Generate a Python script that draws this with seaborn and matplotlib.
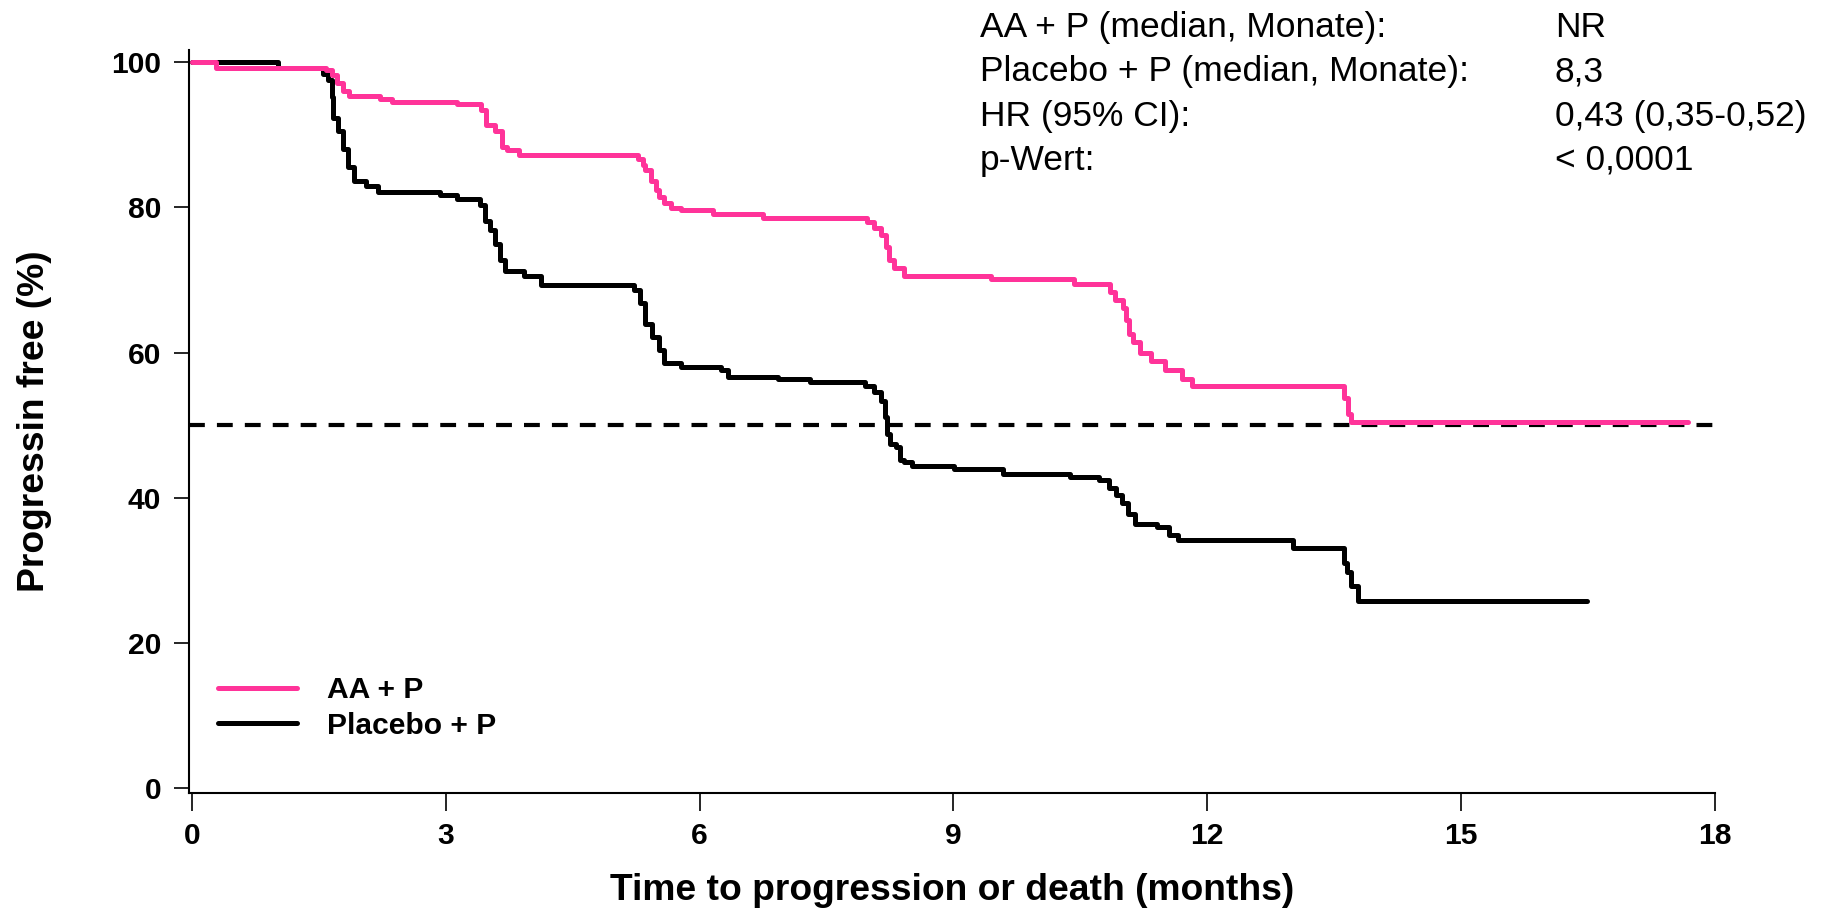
import seaborn as sns
import matplotlib.pyplot as plt
import pandas as pd

# Kaplan-Meier style progression-free curves (months, % progression free)
aa_times = [0, 0.29, 1.59, 1.66, 1.72, 1.78, 1.86, 2.22, 2.36, 3.13, 3.42, 3.48,
            3.58, 3.66, 3.72, 3.86, 5.27, 5.33, 5.36, 5.42, 5.48, 5.52, 5.58, 5.66,
            5.78, 6.16, 6.75, 7.98, 8.06, 8.14, 8.20, 8.24, 8.30, 8.42, 9.44, 10.42,
            10.85, 10.91, 11.00, 11.04, 11.08, 11.12, 11.21, 11.34, 11.50, 11.70,
            11.82, 13.62, 13.66, 13.70, 17.68]
aa_surv = [100, 99.2, 98.9, 98.2, 97.1, 96.0, 95.4, 95.0, 94.6, 94.2, 93.4, 91.3,
           90.6, 88.3, 87.9, 87.2, 86.7, 85.8, 85.1, 83.7, 82.4, 81.5, 80.6, 79.9,
           79.6, 79.1, 78.6, 78.0, 77.1, 76.2, 74.6, 72.7, 71.6, 70.5, 70.1, 69.4,
           68.4, 67.2, 66.1, 64.5, 62.6, 61.5, 60.0, 58.9, 57.6, 56.3,
           55.4, 53.7, 51.6, 50.4, 50.4]

pl_times = [0, 1.02, 1.55, 1.61, 1.65, 1.67, 1.73, 1.79, 1.85, 1.91, 2.06, 2.20,
            2.93, 3.13, 3.40, 3.46, 3.52, 3.58, 3.64, 3.70, 3.92, 4.13, 5.23, 5.30,
            5.36, 5.44, 5.52, 5.58, 5.78, 6.25, 6.34, 6.93, 7.30, 7.95, 8.06, 8.14,
            8.19, 8.22, 8.25, 8.32, 8.37, 8.42, 8.51, 9.01, 9.59, 10.38, 10.72,
            10.84, 10.92, 10.99, 11.06, 11.14, 11.40, 11.55, 11.65, 13.01, 13.61,
            13.65, 13.70, 13.78, 16.49]
pl_surv = [100, 99.2, 98.4, 97.5, 95.2, 92.3, 90.6, 88.1, 85.6, 83.7, 83.0, 82.1,
           81.7, 81.1, 80.3, 78.2, 76.9, 75.0, 72.7, 71.3, 70.5, 69.3, 68.6, 66.8,
           64.0, 62.2, 60.3, 58.5, 58.0, 57.6, 56.7, 56.4, 55.9, 55.4, 54.5, 53.3,
           51.1, 48.8, 47.4, 47.0, 45.2, 44.9, 44.4, 43.9, 43.3, 42.8, 42.4,
           41.4, 40.4, 39.2, 37.8, 36.4, 35.9, 34.9, 34.2, 33.0, 31.0,
           29.8, 27.8, 25.8, 25.8]

arm_names = ["AA + P", "Placebo + P"]
arm_colors = ["#ff3399", "black"]
median_level = 50
x_ticks = [0, 3, 6, 9, 12, 15, 18]
y_ticks = [0, 20, 40, 60, 80, 100]

stat_labels = ["AA + P (median, Monate):", "Placebo + P (median, Monate):",
               "HR (95% CI):", "p-Wert:"]
stat_values = ["NR", "8,3", "0,43 (0,35-0,52)", "< 0,0001"]

sns.set_style("ticks")
plt.rcParams["font.family"] = ["Liberation Sans", "DejaVu Sans"]
plt.rcParams["text.color"] = "black"
plt.rcParams["axes.labelcolor"] = "black"
plt.rcParams["xtick.color"] = "black"
plt.rcParams["ytick.color"] = "black"

W, H = 1837, 913
fig = plt.figure(figsize=(W / 100, H / 100), dpi=100)
ax = fig.add_axes([189 / W, (H - 793) / H, (1715 - 189) / W, (793 - 50) / H])

aa = pd.DataFrame({"t": aa_times, "s": aa_surv})
pl = pd.DataFrame({"t": pl_times, "s": pl_surv})

# placebo first so the pink curve sits on top where they overlap
sns.lineplot(data=pl, x="t", y="s", drawstyle="steps-post", estimator=None,
             sort=False, color=arm_colors[1], lw=3.6, label=arm_names[1], ax=ax)
sns.lineplot(data=aa, x="t", y="s", drawstyle="steps-post", estimator=None,
             sort=False, color=arm_colors[0], lw=3.6, label=arm_names[0], ax=ax)

ax.axhline(median_level, color="black", lw=3, dashes=(3.8, 2.9), zorder=1)

ax.set_xlim(-0.035, 18)
ax.set_ylim(-0.7, 101.7)
ax.set_xticks(x_ticks)
ax.set_yticks(y_ticks)
sns.despine(ax=ax)
for side in ["left", "bottom"]:
    ax.spines[side].set_linewidth(1.5)
    ax.spines[side].set_color("black")

ax.tick_params(axis="x", length=13, width=1.2, pad=8, labelsize=21.6, colors="black")
ax.tick_params(axis="y", length=11, width=1.2, pad=9, labelsize=21.6, colors="black")
for lab in ax.get_xticklabels() + ax.get_yticklabels():
    lab.set_fontweight("bold")

ax.set_xlabel("Time to progression or death (months)", fontsize=26.8,
              fontweight="bold")
ax.set_ylabel("Progressin free (%)", fontsize=26.8, fontweight="bold")
ax.xaxis.set_label_coords(0.5, -0.108)
ax.yaxis.set_label_coords(-0.090, 0.5)

handles, labels = ax.get_legend_handles_labels()
leg = ax.legend(handles[::-1], labels[::-1], loc="upper left",
                bbox_to_anchor=(0.019, 0.157), frameon=False, borderpad=0,
                borderaxespad=0, handlelength=2.64, handletextpad=1.0,
                labelspacing=0.25, prop={"size": 21.6, "weight": "bold"})

baselines = [37.3, 81.5, 125.7, 170]
for lab, val, yb in zip(stat_labels, stat_values, baselines):
    fig.text(980 / W, 1 - yb / H, lab, fontsize=25.5, va="baseline", color="black")
    fig.text(1555 / W, 1 - yb / H, val, fontsize=25.5, va="baseline", color="black")

fig.savefig("out.png", dpi=100)
